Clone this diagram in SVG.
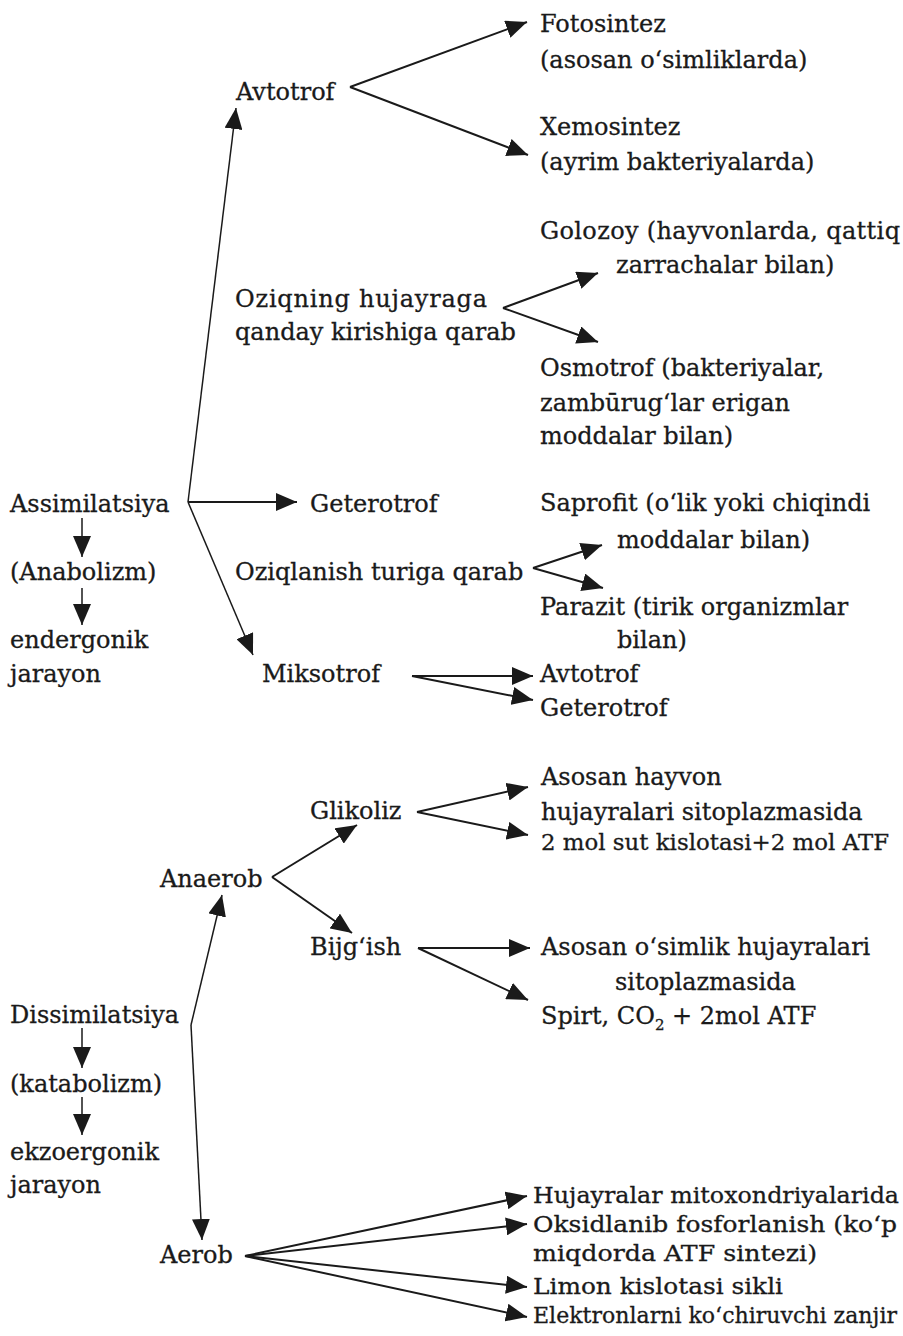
<svg xmlns="http://www.w3.org/2000/svg" width="903" height="1336" viewBox="0 0 903 1336">
<defs>
<marker id="ah" viewBox="0 0 21 18" refX="21" refY="9" markerWidth="21" markerHeight="18" markerUnits="userSpaceOnUse" orient="auto">
<path d="M0,0 L21,9 L0,18 Z" fill="#1a1a1a"/>
</marker>
<style>
text{font-family:"DejaVu Serif","Liberation Serif",serif;font-size:24px;fill:#1a1a1a;stroke:#1a1a1a;stroke-width:0.3}
.s{font-size:22px}
.c{fill:none;stroke:#1a1a1a;stroke-width:2;marker-end:url(#ah)}
.t{stroke-width:1.5}
</style>
</defs>
<rect width="903" height="1336" fill="#ffffff"/>

<g id="connectors">
<line class="c t" x1="188" y1="502" x2="236" y2="108"/>
<line class="c" x1="188" y1="502" x2="297" y2="502"/>
<line class="c t" x1="188" y1="502" x2="253" y2="655"/>
<line class="c" x1="350" y1="87" x2="527" y2="22"/>
<line class="c" x1="350" y1="87" x2="528" y2="155"/>
<line class="c" x1="503" y1="308" x2="598" y2="273"/>
<line class="c" x1="503" y1="308" x2="598" y2="342"/>
<line class="c" x1="533" y1="568" x2="602" y2="545"/>
<line class="c" x1="533" y1="568" x2="603" y2="588"/>
<line class="c" x1="412" y1="676" x2="533" y2="676"/>
<line class="c" x1="412" y1="676" x2="533" y2="700"/>
<line class="c t" x1="82" y1="518" x2="82" y2="557"/>
<line class="c t" x1="82" y1="588" x2="82" y2="625"/>
<line class="c t" x1="191" y1="1025" x2="222" y2="895"/>
<line class="c t" x1="191" y1="1025" x2="202" y2="1240"/>
<line class="c" x1="272" y1="877" x2="357" y2="825"/>
<line class="c" x1="272" y1="877" x2="352" y2="933"/>
<line class="c" x1="417" y1="812" x2="528" y2="787"/>
<line class="c" x1="417" y1="812" x2="528" y2="835"/>
<line class="c" x1="418" y1="948" x2="530" y2="948"/>
<line class="c" x1="418" y1="948" x2="528" y2="1000"/>
<line class="c" x1="245" y1="1256" x2="527" y2="1196"/>
<line class="c" x1="245" y1="1256" x2="527" y2="1224"/>
<line class="c" x1="245" y1="1256" x2="527" y2="1287"/>
<line class="c" x1="245" y1="1256" x2="527" y2="1317"/>
<line class="c t" x1="82" y1="1028" x2="82" y2="1068"/>
<line class="c t" x1="82" y1="1097" x2="82" y2="1135"/>
</g>

<g id="n-fotosintez"><text x="540" y="32">Fotosintez</text><text x="540" y="68">(asosan o‘simliklarda)</text></g>
<g id="n-avtotrof"><text x="236" y="100">Avtotrof</text></g>
<g id="n-xemosintez"><text x="540" y="135">Xemosintez</text><text x="540" y="170">(ayrim bakteriyalarda)</text></g>
<g id="n-golozoy"><text x="540" y="239" textLength="360" lengthAdjust="spacing">Golozoy (hayvonlarda, qattiq</text><text x="616" y="273">zarrachalar bilan)</text></g>
<g id="n-oziqning"><text x="235" y="307" textLength="252" lengthAdjust="spacing">Oziqning hujayraga</text><text x="235" y="340">qanday kirishiga qarab</text></g>
<g id="n-osmotrof"><text x="540" y="376">Osmotrof (bakteriyalar,</text><text x="540" y="411">zambūrug‘lar erigan</text><text x="540" y="444">moddalar bilan)</text></g>
<g id="n-assimilatsiya"><text x="10" y="512">Assimilatsiya</text></g>
<g id="n-geterotrof"><text x="310" y="512">Geterotrof</text></g>
<g id="n-saprofit"><text x="540" y="511">Saprofit (o‘lik yoki chiqindi</text><text x="617" y="548">moddalar bilan)</text></g>
<g id="n-anabolizm"><text x="10" y="580">(Anabolizm)</text></g>
<g id="n-oziqlanish"><text x="235" y="580">Oziqlanish turiga qarab</text></g>
<g id="n-parazit"><text x="540" y="615">Parazit (tirik organizmlar</text><text x="617" y="648">bilan)</text></g>
<g id="n-endergonik"><text x="10" y="648">endergonik</text><text x="10" y="682">jarayon</text></g>
<g id="n-miksotrof"><text x="262" y="682">Miksotrof</text></g>
<g id="n-m-avtotrof"><text x="540" y="682">Avtotrof</text></g>
<g id="n-m-geterotrof"><text x="540" y="716">Geterotrof</text></g>

<g id="n-glikoliz"><text x="310" y="819">Glikoliz</text></g>
<g id="n-hayvon"><text x="541" y="785">Asosan hayvon</text><text x="541" y="820">hujayralari sitoplazmasida</text></g>
<g id="n-sut"><text class="s" x="541" y="850" textLength="348" lengthAdjust="spacingAndGlyphs">2 mol sut kislotasi+2 mol ATF</text></g>
<g id="n-anaerob"><text x="160" y="887">Anaerob</text></g>
<g id="n-bijgish"><text x="310" y="955">Bijg‘ish</text></g>
<g id="n-osimlik"><text x="541" y="955">Asosan o‘simlik hujayralari</text><text x="615" y="990">sitoplazmasida</text></g>
<g id="n-spirt"><text x="541" y="1024">Spirt, CO<tspan font-size="15" dy="6">2</tspan><tspan dy="-6"> + 2mol ATF</tspan></text></g>
<g id="n-dissimilatsiya"><text x="10" y="1023">Dissimilatsiya</text></g>
<g id="n-katabolizm"><text x="10" y="1092">(katabolizm)</text></g>
<g id="n-ekzoergonik"><text x="10" y="1160">ekzoergonik</text><text x="10" y="1193">jarayon</text></g>
<g id="n-aerob"><text x="160" y="1263">Aerob</text></g>
<g id="n-mitox"><text class="s" x="533" y="1203" textLength="366" lengthAdjust="spacingAndGlyphs">Hujayralar mitoxondriyalarida</text></g>
<g id="n-oksid"><text class="s" x="533" y="1232" textLength="364" lengthAdjust="spacingAndGlyphs">Oksidlanib fosforlanish (ko‘p</text><text class="s" x="533" y="1261" textLength="284" lengthAdjust="spacingAndGlyphs">miqdorda ATF sintezi)</text></g>
<g id="n-limon"><text class="s" x="533" y="1294" textLength="250" lengthAdjust="spacingAndGlyphs">Limon kislotasi sikli</text></g>
<g id="n-elektron"><text class="s" x="533" y="1323" textLength="364" lengthAdjust="spacingAndGlyphs">Elektronlarni ko‘chiruvchi zanjir</text></g>
</svg>
